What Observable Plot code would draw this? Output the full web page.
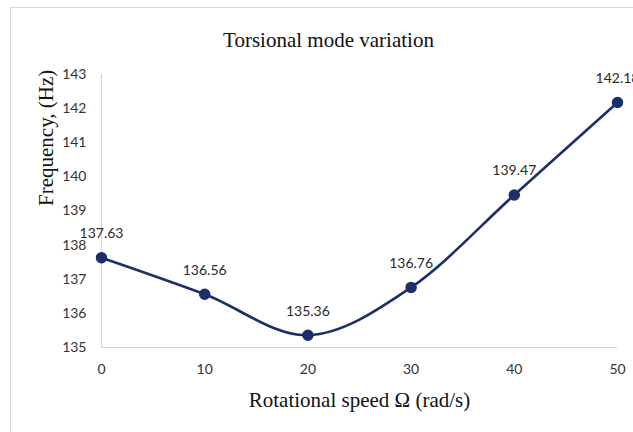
<!DOCTYPE html>
<html>
<head>
<meta charset="utf-8">
<script src="https://cdn.jsdelivr.net/npm/d3@7"></script>
<script src="https://cdn.jsdelivr.net/npm/@observablehq/plot@0.6"></script>
<style>
  html, body { margin: 0; padding: 0; background: #fff; overflow: hidden; }
  #wrap { position: relative; width: 633px; height: 432px; }
  #border { position: absolute; left: 10px; top: 7px; width: 700px; height: 500px; border: 1px solid #d9d9d9; box-sizing: border-box; }
  #chart { position: absolute; left: 0; top: 0; }
</style>
</head>
<body>
<div id="wrap"><div id="border"></div><div id="chart"></div></div>
<script>
const speeds = [0, 10, 20, 30, 40, 50];
const freqs = [137.63, 136.56, 135.36, 136.76, 139.47, 142.18];
const xTicks = [0, 10, 20, 30, 40, 50];
const yTicks = [135, 136, 137, 138, 139, 140, 141, 142, 143];
const title = "Torsional mode variation";
const xTitle = "Rotational speed \u03A9 (rad/s)";
const yTitle = "Frequency, (Hz)";

const data = speeds.map((s, i) => ({s, f: freqs[i]}));
const navy = "#1c2f6b";
const serif = "'Liberation Serif', 'DejaVu Serif', serif";

const plot = Plot.plot({
  width: 633,
  height: 432,
  marginLeft: 101,
  marginRight: 16,
  marginTop: 74,
  marginBottom: 85,
  style: {fontFamily: "Lato, sans-serif", fontSize: "14px", color: "#333", background: "transparent"},
  x: {domain: [0, 50], ticks: xTicks, tickSize: 0, tickPadding: 17, label: null},
  y: {domain: [135, 143], ticks: yTicks, tickSize: 0, tickPadding: 15, label: null},
  marks: [
    Plot.ruleY([135], {stroke: "#d4d4d4", strokeWidth: 1.2}),
    Plot.ruleX([0], {stroke: "#d4d4d4", strokeWidth: 1.2}),
    Plot.line(data, {x: "s", y: "f", curve: "cardinal", stroke: navy, strokeWidth: 2.6}),
    Plot.dot(data, {x: "s", y: "f", r: 5, fill: navy, stroke: navy}),
    Plot.text(data, {x: "s", y: "f", text: d => d.f.toFixed(2), dy: -24, fill: "#2a2a2a", fontSize: 14}),
    Plot.text([title], {frameAnchor: "top", lineAnchor: "middle", dy: -34, dx: -31, fontFamily: serif, fontSize: 21, fill: "#111"}),
    Plot.text([xTitle], {frameAnchor: "bottom", lineAnchor: "middle", dy: 53, fontFamily: serif, fontSize: 21, fill: "#111"}),
    Plot.text([yTitle], {frameAnchor: "left", lineAnchor: "middle", rotate: -90, dx: -55, dy: -5, fontFamily: serif, fontSize: 21, fill: "#111"})
  ]
});
document.getElementById("chart").appendChild(plot);
</script>
</body>
</html>
